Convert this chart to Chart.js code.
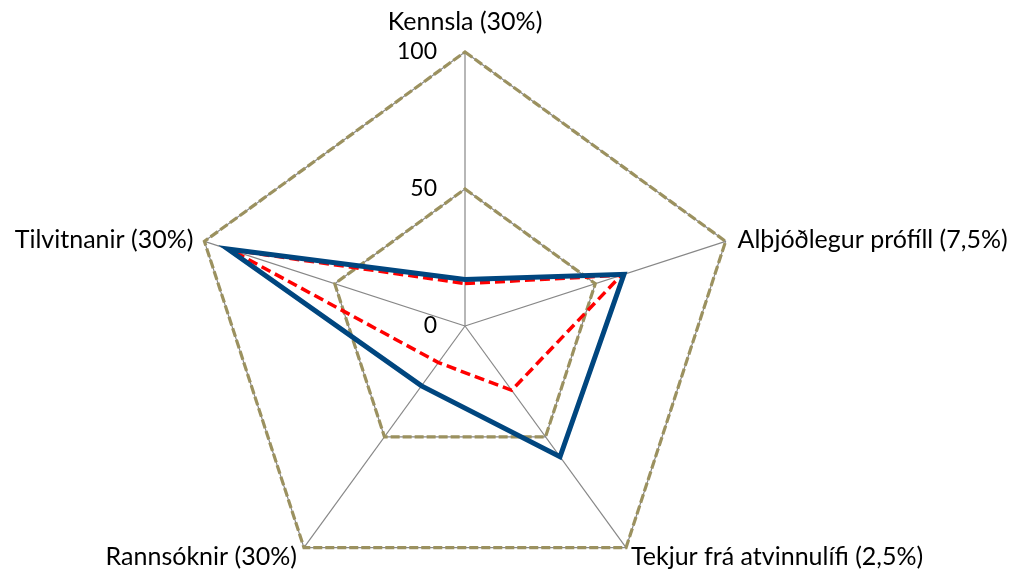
<!DOCTYPE html>
<html><head><meta charset="utf-8">
<script src="https://cdn.jsdelivr.net/npm/chart.js@4.4.1/dist/chart.umd.min.js"></script>
<style>html,body{margin:0;padding:0;background:#fff;}#wrap{width:1011px;height:572px;position:relative;}</style>
</head><body><div id="wrap"><canvas id="c" width="1011" height="572"></canvas></div>
<script>
const categories = ['Kennsla (30%)', 'Alþjóðlegur prófíll (7,5%)', 'Tekjur frá atvinnulífi (2,5%)', 'Rannsóknir (30%)', 'Tilvitnanir (30%)'];
const seriesSchool = [17, 61, 59, 27, 91];
const seriesAverage = [15.5, 60, 29, 16.5, 90];
const tickValues = [0, 50, 100];

const CENTER_X = 465, CENTER_Y = 326, RADIUS = 274;
const FONT = '25px Lato, "Liberation Sans", sans-serif';
const TICK_FONT = '23px Lato, "Liberation Sans", sans-serif';
const GREY = '#878787', OLIVE = '#9b915f';

function fixGeom(scale) {
  scale.xCenter = CENTER_X;
  scale.yCenter = CENTER_Y;
  scale.drawingArea = RADIUS;
}

const textPlugin = {
  id: 'texts',
  afterDraw(chart) {
    const r = chart.scales.r;
    const ctx = chart.ctx;
    ctx.save();
    ctx.font = FONT;
    ctx.fillStyle = '#000';
    categories.forEach((lab, i) => {
      const p = r.getPointPositionForValue(i, r.max);
      const c = Math.cos(p.angle), s = Math.sin(p.angle);
      let x = p.x, y = p.y, align = 'center';
      if (Math.abs(c) < 0.01) { y -= 30; }
      else if (s < 0) { align = c > 0 ? 'left' : 'right'; x += c > 0 ? 12 : -11; y -= 1; }
      else { align = c > 0 ? 'left' : 'right'; x += c > 0 ? 5 : -7; y += 9; }
      ctx.textAlign = align;
      ctx.textBaseline = 'middle';
      ctx.fillText(lab, x, y);
    });
    ctx.font = TICK_FONT;
    ctx.textAlign = 'right';
    ctx.textBaseline = 'middle';
    tickValues.forEach(v => {
      const p = r.getPointPositionForValue(0, v);
      ctx.fillText(String(v), p.x - 28, p.y);
    });
    ctx.restore();
  }
};

new Chart(document.getElementById('c'), {
  type: 'radar',
  data: {
    labels: categories,
    datasets: [
      { label: 'Skóli', data: seriesSchool, borderColor: '#00467f', borderWidth: 5, fill: false,
        pointRadius: 0, pointHoverRadius: 0, borderJoinStyle: 'miter', rAxisID: 'r' },
      { label: 'Meðaltal', data: seriesAverage, borderColor: '#ff0000', borderWidth: 3.5, borderDash: [10, 5], fill: false,
        pointRadius: 0, pointHoverRadius: 0, rAxisID: 'r' }
    ]
  },
  options: {
    responsive: false,
    devicePixelRatio: 1,
    animation: false,
    plugins: { legend: { display: false }, tooltip: { enabled: false } },
    scales: {
      r: {
        min: 0, max: 100,
        ticks: { display: false, stepSize: 50 },
        grid: { color: GREY, lineWidth: 1.2 },
        angleLines: { color: GREY, lineWidth: 1.2 },
        pointLabels: { display: false },
        afterFit: fixGeom
      },
      r2: {
        type: 'radialLinear',
        min: 0, max: 100,
        ticks: { display: false, stepSize: 50 },
        grid: { color: OLIVE, lineWidth: 3.2 },
        border: { dash: [9, 3] },
        angleLines: { display: false },
        pointLabels: { display: false },
        afterFit: fixGeom
      }
    }
  },
  plugins: [textPlugin]
});
</script></body></html>
